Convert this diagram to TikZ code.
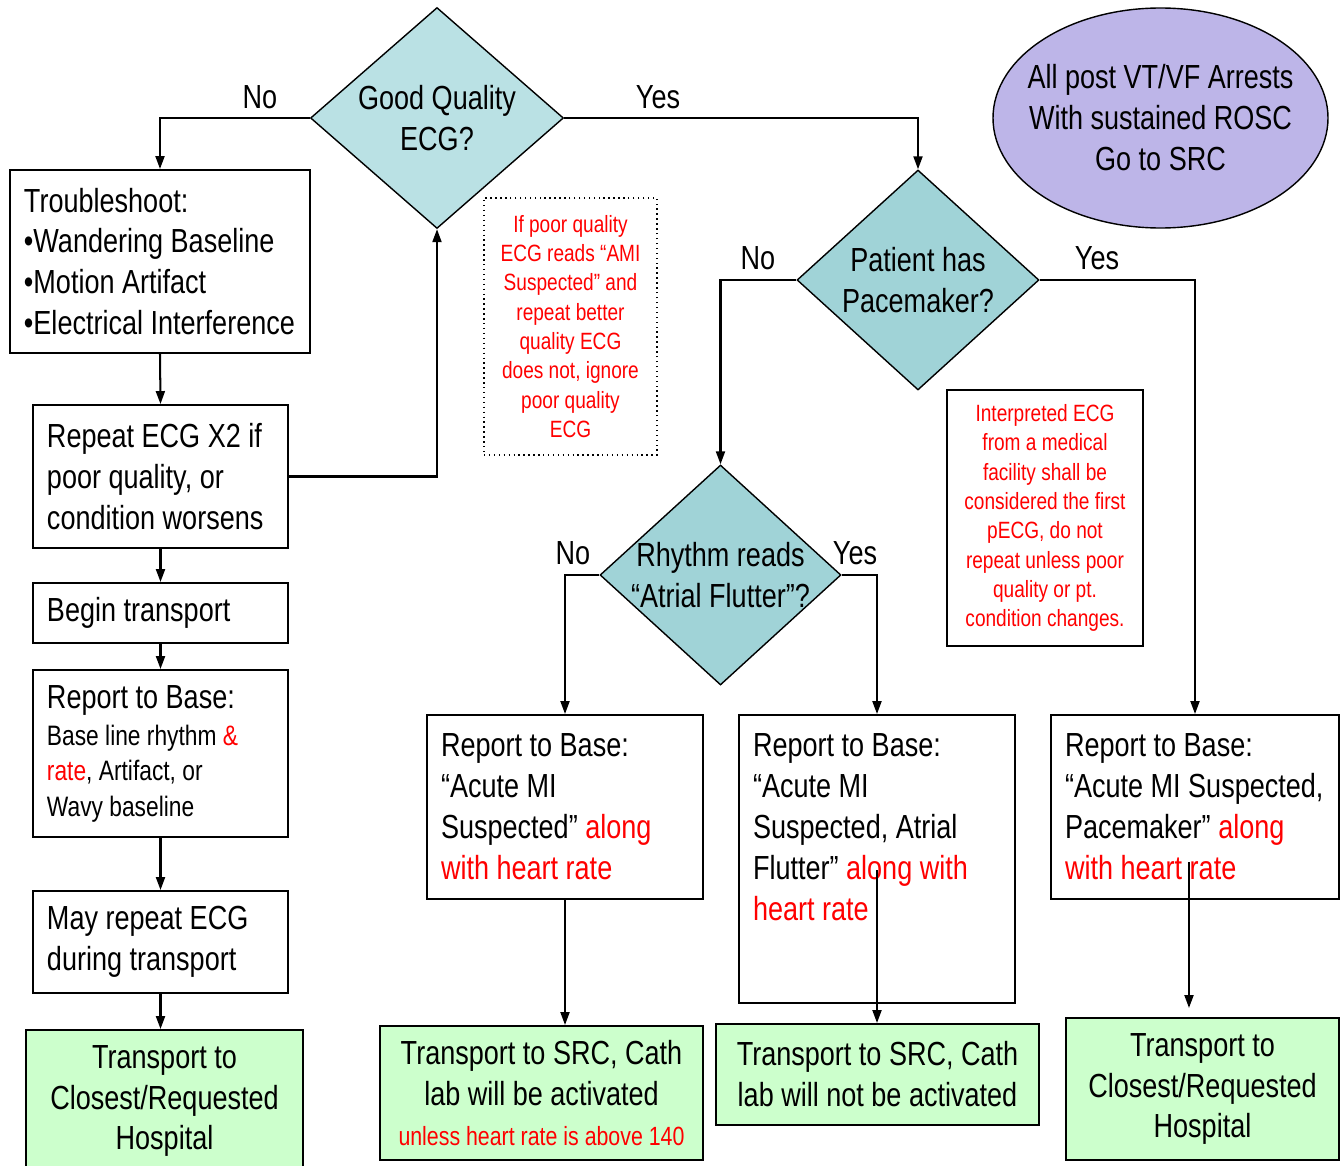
\documentclass[tikz,border=0pt]{standalone}
\usepackage{fontspec}
\setmainfont{Liberation Sans}[FakeStretch=0.81]
\usetikzlibrary{arrows.meta,shapes.geometric}

\definecolor{qlight}{RGB}{186,225,228}
\definecolor{qteal}{RGB}{160,211,215}
\definecolor{ovalfill}{RGB}{189,181,232}
\definecolor{endgreen}{RGB}{204,255,204}

\def\pxu{0.02cm}
\newcommand{\fbig}{\fontsize{19}{23.3}\selectfont}
\newcommand{\fmid}{\fontsize{16}{20}\selectfont}
\newcommand{\fnote}{\fontsize{13.4}{16.7}\selectfont}

\begin{document}
\begin{tikzpicture}[
    x=0.02cm, y=-0.02cm,
    stepbox/.style={draw, line width=1.1pt, fill=white, inner xsep=14*\pxu,
      inner ysep=0pt, font=\fbig, align=flush left},
    endbox/.style={draw, line width=1.1pt, fill=endgreen, inner sep=0pt,
      font=\fbig, align=center},
    decision/.style={diamond, draw, line width=0.8pt, inner sep=0pt},
    notebox/.style={draw, line width=0.8pt, inner sep=0pt, font=\fnote,
      text=red, align=center},
    yesno/.style={font=\fbig, inner sep=0pt},
    flow/.style={-{Triangle[length=2.6mm, width=1.8mm]}, line width=1.15pt}
  ]
\useasboundingbox (0,0) rectangle (1343,1166);

% ============================================================
% decisions and the ROSC oval
% ============================================================
\node[decision, fill=qlight, minimum width=253*\pxu, minimum height=221*\pxu,
  label={[font=\fbig, align=center]center:Good Quality\\ECG?}]
  (q1) at (437,118) {};
\node[decision, fill=qteal, minimum width=242*\pxu, minimum height=220*\pxu,
  label={[font=\fbig, align=center]center:Patient has\\Pacemaker?}]
  (q2) at (918,280) {};
\node[decision, fill=qteal, minimum width=241*\pxu, minimum height=220*\pxu,
  label={[font=\fbig, align=center]center:Rhythm reads\\“Atrial Flutter”?}]
  (q3) at (720.5,575) {};

\node[ellipse, draw, line width=0.8pt, fill=ovalfill, minimum width=335*\pxu,
  minimum height=220*\pxu,
  label={[font=\fbig, align=center]center:All post VT/VF Arrests\\With sustained ROSC\\Go to SRC}]
  (rosc) at (1160.5,118) {};

% ============================================================
% left column: poor quality ECG
% ============================================================
\node[stepbox, minimum width=300*\pxu, minimum height=183*\pxu, text width=272*\pxu]
  (trb) at (160,261.5)
  {Troubleshoot:\\•Wandering Baseline\\•Motion Artifact\\•Electrical Interference};
\node[stepbox, minimum width=255*\pxu, minimum height=143*\pxu, text width=227*\pxu]
  (rep) at (160.5,476.5)
  {Repeat ECG X2 if\\poor quality, or\\condition worsens};
\node[stepbox, minimum width=255*\pxu, minimum height=60*\pxu, text width=227*\pxu]
  (beg) at (160.5,613) {Begin transport};
\node[stepbox, minimum width=255*\pxu, minimum height=167*\pxu, text width=227*\pxu]
  (rbl) at (160.5,753.5)
  {Report to Base:\\[1.5pt]\fmid Base line rhythm \textcolor{red}{\&}\\\fmid\textcolor{red}{rate}, Artifact, or\\\fmid Wavy baseline\par};
\node[stepbox, minimum width=255*\pxu, minimum height=102*\pxu, text width=227*\pxu]
  (may) at (160.5,942) {May repeat ECG\\during transport};
\node[endbox, minimum width=277*\pxu, minimum height=142*\pxu]
  (gL) at (164.5,1101) {Transport to\\Closest/Requested\\Hospital};

% ============================================================
% notes
% ============================================================
\node[notebox, dotted, minimum width=173*\pxu, minimum height=257*\pxu]
  (n1) at (570.5,326.5)
  {If poor quality\\ECG reads “AMI\\Suspected” and\\repeat better\\quality ECG\\does not, ignore\\poor quality\\ECG};
\node[notebox, minimum width=196*\pxu, minimum height=256*\pxu]
  (n2) at (1045,518)
  {Interpreted ECG\\from a medical\\facility shall be\\considered the first\\pECG, do not\\repeat unless poor\\quality or pt.\\condition changes.};

% ============================================================
% right part: report and transport
% ============================================================
\node[stepbox, minimum width=276*\pxu, minimum height=184*\pxu, text width=248*\pxu]
  (bA) at (565,807)
  {Report to Base:\\“Acute MI\\Suspected” \textcolor{red}{along}\\\textcolor{red}{with heart rate}};
\node[stepbox, inner ysep=19*\pxu] (bB) at (877,859)
  {\parbox[c][5cm][t]{4.96cm}{\raggedright Report to Base:\\“Acute MI\\Suspected, Atrial\\Flutter” \textcolor{red}{along with}\\\textcolor{red}{heart rate}}};
\node[stepbox, minimum width=288*\pxu, minimum height=184*\pxu, text width=260*\pxu]
  (bC) at (1195,807)
  {Report to Base:\\“Acute MI Suspected,\\Pacemaker” \textcolor{red}{along}\\\textcolor{red}{with heart rate}};

\node[endbox, minimum width=323*\pxu, minimum height=134*\pxu]
  (gA) at (541.5,1093)
  {Transport to SRC, Cath\\lab will be activated\\[-1pt]\fontsize{15}{18}\selectfont\color{red}unless heart rate is above 140};
\node[endbox, minimum width=323*\pxu, minimum height=101*\pxu]
  (gB) at (877.5,1074.5) {Transport to SRC, Cath\\lab will not be activated};
\node[endbox, minimum width=273*\pxu, minimum height=142*\pxu]
  (gC) at (1202.5,1089) {Transport to\\Closest/Requested\\Hospital};

% yes / no labels
\node[yesno] (no1) at (260,97) {No};
\node[yesno] (yes1) at (658,97) {Yes};
\node[yesno] (no2) at (758,258) {No};
\node[yesno] (yes2) at (1097,258) {Yes};
\node[yesno] (no3) at (573,553) {No};
\node[yesno] (yes3) at (855,553) {Yes};

% loose ends of the two right connectors
\coordinate (bBtail) at (877,870);
\coordinate (bCtail) at (1189,862);
\coordinate (bChead) at (1189,1008);

% ============================================================
% connectors
% ============================================================
\draw[flow] (q1.west) -| (trb.north);
\draw[flow] (trb.south) -- (rep.north);
\draw[flow] (rep.east) -| (q1.south);
\draw[flow] (rep.south) -- (beg.north);
\draw[flow] (beg.south) -- (rbl.north);
\draw[flow] (rbl.south) -- (may.north);
\draw[flow] (may.south) -- (may.south |- gL.north);

\draw[flow] (q1.east) -| (q2.north);
\draw[flow] (q2.west) -| (q3.north);
\draw[flow] (q2.east) -| (bC.north);
\draw[flow] (q3.west) -| (bA.north);
\draw[flow] (q3.east) -| (bB.north);

\draw[flow] (bA.south) -- (bA.south |- gA.north);
\draw[flow] (bBtail) -- (bBtail |- gB.north);
\draw[flow] (bCtail) -- (bChead);

\end{tikzpicture}
\end{document}
